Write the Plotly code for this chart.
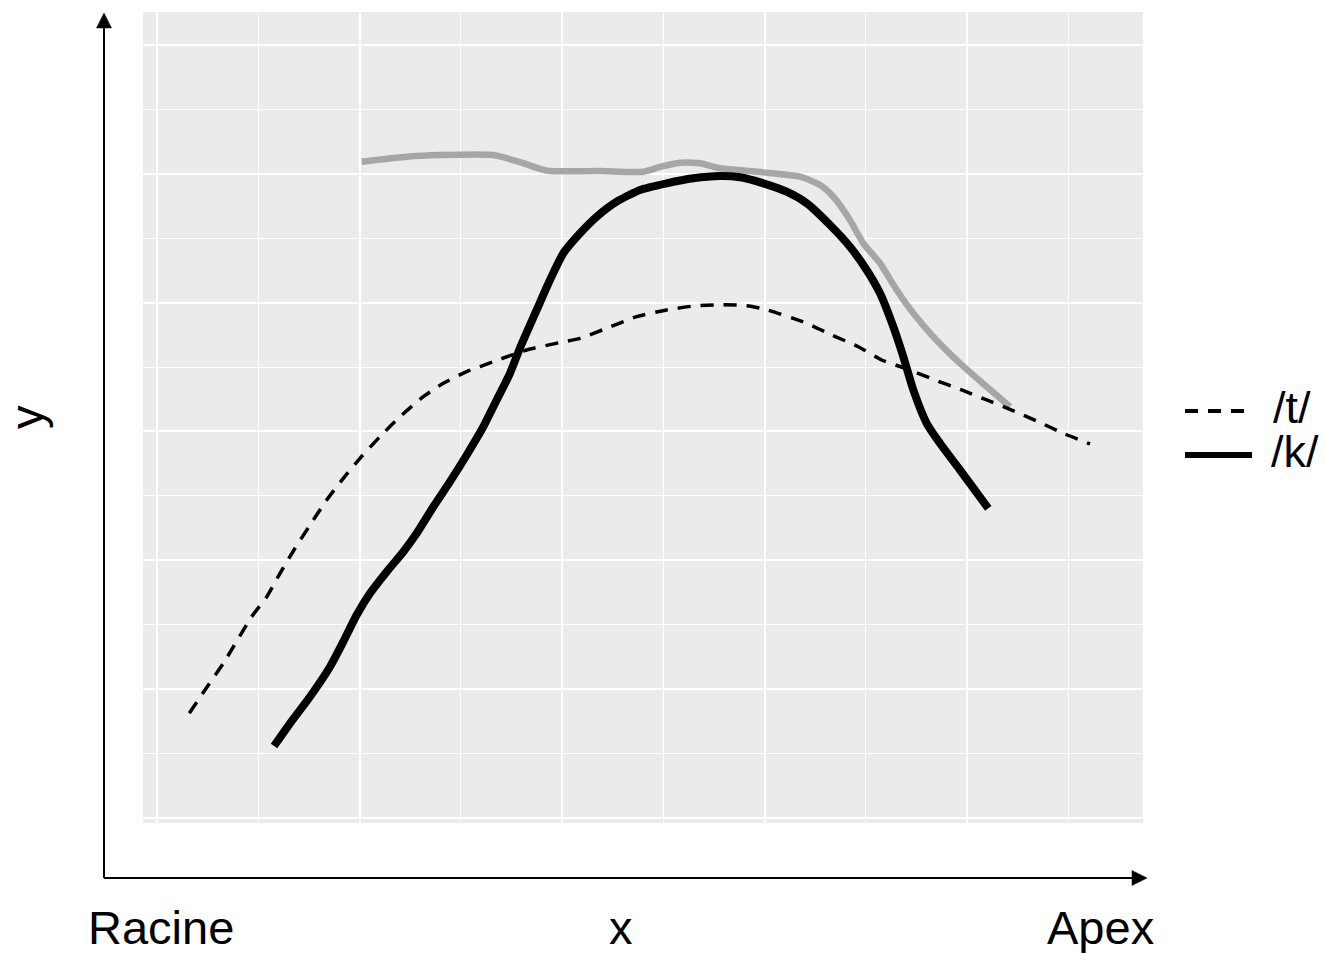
import plotly.graph_objects as go

# ---- data (arbitrary units, x 0..10, y 0..12) ----
t_x = [0.319, 0.474, 0.655, 0.935, 1.084, 1.215, 1.363, 1.511, 1.676, 1.840, 2.005, 2.202,
       2.400, 2.630, 2.828, 3.059, 3.321, 3.651, 3.980, 4.178, 4.441, 4.738, 5.034, 5.330,
       5.593, 5.824, 6.030, 6.417, 6.664, 6.926, 7.158, 7.388, 7.684, 7.948, 8.195, 8.441,
       8.704, 8.951, 9.215]
t_y = [1.625, 1.987, 2.401, 3.125, 3.435, 3.799, 4.187, 4.548, 4.936, 5.273, 5.584, 5.919,
       6.229, 6.540, 6.748, 6.928, 7.083, 7.265, 7.381, 7.446, 7.602, 7.782, 7.886, 7.953,
       7.968, 7.953, 7.886, 7.679, 7.498, 7.316, 7.110, 6.981, 6.799, 6.644, 6.489, 6.333,
       6.152, 5.972, 5.806]

k_x = [1.156, 1.314, 1.511, 1.709, 1.840, 1.972, 2.104, 2.269, 2.433, 2.565, 2.729, 2.894,
       3.059, 3.223, 3.355, 3.486, 3.585, 3.750, 3.881, 4.013, 4.178, 4.343, 4.540, 4.770,
       5.034, 5.297, 5.560, 5.758, 5.988, 6.219, 6.417, 6.647, 6.844, 7.009, 7.141, 7.272,
       7.371, 7.470, 7.602, 7.733, 7.931, 8.210]
k_y = [1.118, 1.470, 1.883, 2.349, 2.737, 3.151, 3.488, 3.823, 4.134, 4.419, 4.832, 5.221,
       5.635, 6.074, 6.489, 6.903, 7.296, 7.886, 8.351, 8.766, 9.076, 9.334, 9.567, 9.749,
       9.852, 9.930, 9.966, 9.946, 9.852, 9.722, 9.542, 9.205, 8.868, 8.507, 8.145, 7.627,
       7.161, 6.644, 6.127, 5.817, 5.402, 4.808]

g_x = [2.022, 2.466, 2.795, 3.321, 3.585, 3.849, 4.375, 4.803, 4.968, 5.165, 5.363, 5.560,
       5.824, 6.087, 6.351, 6.548, 6.680, 6.844, 6.976, 7.141, 7.306, 7.470, 7.667, 7.931,
       8.195, 8.425]
g_y = [10.188, 10.266, 10.292, 10.292, 10.183, 10.048, 10.043, 10.033, 10.106, 10.172,
       10.163, 10.085, 10.048, 10.008, 9.955, 9.826, 9.644, 9.283, 8.921, 8.611, 8.196,
       7.834, 7.471, 7.058, 6.695, 6.385]

series_names = ["/t/", "/k/"]
x_label, y_label = "x", "y"
x_start_label, x_end_label = "Racine", "Apex"

# ---- layout helpers (pixel -> paper) ----
W, H = 1327, 953
L, R, T, B = 143, 1143, 12, 823


def px(x):
    return (x - L) / (R - L)


def py(y):
    return (B - y) / (B - T)


FONT = "Liberation Sans, Arial, Helvetica, sans-serif"
DASH = "13px,10px"

fig = go.Figure()
fig.add_trace(go.Scatter(x=g_x, y=g_y, mode="lines",
                         line=dict(color="#a6a6a6", width=6.5, shape="spline", smoothing=0.6),
                         showlegend=False, hoverinfo="skip"))
fig.add_trace(go.Scatter(x=t_x, y=t_y, mode="lines", name=series_names[0],
                         line=dict(color="black", width=3.5, dash=DASH, shape="spline", smoothing=0.6),
                         showlegend=False))
fig.add_trace(go.Scatter(x=k_x, y=k_y, mode="lines", name=series_names[1],
                         line=dict(color="black", width=8, shape="spline", smoothing=0.6),
                         showlegend=False))

axis_common = dict(showticklabels=False, ticks="", zeroline=False, showline=False,
                   showgrid=True, gridcolor="white", gridwidth=2.2)
fig.update_xaxes(range=[(L - 157) / 101.25, (R - 157) / 101.25], tick0=0, dtick=2,
                 minor=dict(dtick=1, tick0=0, showgrid=True, gridcolor="white", gridwidth=1.2),
                 **axis_common)
fig.update_yaxes(range=[(818 - B) / 64.42, (818 - T) / 64.42], tick0=0, dtick=2,
                 minor=dict(dtick=1, tick0=0, showgrid=True, gridcolor="white", gridwidth=1.2),
                 **axis_common)

shapes = []
# axis arrows
ax_x, ax_y = 104, 878
shapes.append(dict(type="line", xref="paper", yref="paper", x0=px(ax_x), y0=py(ax_y),
                   x1=px(ax_x), y1=py(28), line=dict(color="black", width=2)))
shapes.append(dict(type="line", xref="paper", yref="paper", x0=px(ax_x), y0=py(ax_y),
                   x1=px(1133), y1=py(ax_y), line=dict(color="black", width=2)))
shapes.append(dict(type="path", xref="paper", yref="paper",
                   path=f"M {px(ax_x)} {py(13)} L {px(ax_x - 7.5)} {py(28)} L {px(ax_x + 7.5)} {py(28)} Z",
                   fillcolor="black", line=dict(color="black", width=0.5)))
shapes.append(dict(type="path", xref="paper", yref="paper",
                   path=f"M {px(1147)} {py(ax_y)} L {px(1132)} {py(ax_y - 7.5)} L {px(1132)} {py(ax_y + 7.5)} Z",
                   fillcolor="black", line=dict(color="black", width=0.5)))
# legend keys
shapes.append(dict(type="line", xref="paper", yref="paper", x0=px(1185), x1=px(1252),
                   y0=py(411), y1=py(411), line=dict(color="black", width=4, dash=DASH)))
shapes.append(dict(type="line", xref="paper", yref="paper", x0=px(1185), x1=px(1252),
                   y0=py(455), y1=py(455), line=dict(color="black", width=6)))

ann = []
fs = 47
common = dict(xref="paper", yref="paper", showarrow=False, yanchor="middle", borderpad=0)
ann.append(dict(text=x_start_label, x=px(160.5), y=py(927), xanchor="center",
                font=dict(size=fs), **common))
ann.append(dict(text=x_label, x=px(621), y=py(927), xanchor="center",
                font=dict(size=fs), **common))
ann.append(dict(text=x_end_label, x=px(1100), y=py(927), xanchor="center",
                font=dict(size=fs), **common))
ann.append(dict(text=y_label, x=px(27), y=py(417), xanchor="center", textangle=-90,
                font=dict(size=fs), **common))
ann.append(dict(text=series_names[0], x=px(1272), y=py(407), xanchor="left",
                height=40, font=dict(size=45), **common))
ann.append(dict(text=series_names[1], x=px(1270), y=py(451), xanchor="left",
                height=40, font=dict(size=45), **common))

fig.update_layout(
    width=W, height=H,
    margin=dict(l=L, r=W - R, t=T, b=H - B, pad=0),
    paper_bgcolor="white", plot_bgcolor="#ebebeb",
    font=dict(family=FONT, color="black", size=fs),
    showlegend=False,
    shapes=shapes, annotations=ann,
)

fig.write_html("out.html", config={"displayModeBar": False},
               post_script="document.body.style.margin='0';document.body.style.overflow='hidden';")
